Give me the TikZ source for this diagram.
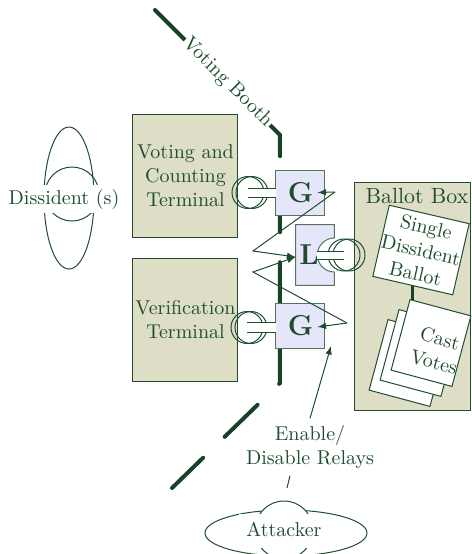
\documentclass[tikz,border=0pt]{standalone}
\usepackage{tikz}
\usetikzlibrary{calc,shapes.geometric}

\definecolor{inkgreen}{RGB}{30,77,47}
\definecolor{wallgreen}{RGB}{22,66,38}
\definecolor{termbeige}{RGB}{222,222,199}
\definecolor{gatelilac}{RGB}{230,230,250}
\definecolor{gateedge}{RGB}{85,115,95}

\tikzset{
  terminal/.style={draw=inkgreen,line width=0.5pt,fill=termbeige,align=center,inner sep=0pt},
  gate/.style={draw=gateedge,line width=0.5pt,fill=gatelilac,minimum width=24.5pt,minimum height=22.5pt,font=\Large\bfseries},
  page/.style={draw=inkgreen,line width=0.5pt,fill=white,align=center,inner sep=0pt,rotate=-15,minimum width=31.5pt,minimum height=36.5pt},
  relay/.style={inkgreen,line width=0.5pt},
  ring/.style={inkgreen,line width=0.5pt},
  wall/.style={wallgreen,line width=2pt,line cap=round,dash pattern=on 23pt off 15pt},
}

\begin{document}
\begin{tikzpicture}[x=0.5pt,y=-0.5pt,every node/.style={text=inkgreen}]
  \useasboundingbox (0,0) rectangle (472,554);

  \draw[wall] (155,10) -- (280,135) -- (280,383) -- (172,488);
  \node[fill=white,rotate=-45,inner sep=0.5pt] (booth) at (227.5,82.5) {Voting Booth};

  \node[ellipse,draw=inkgreen,line width=0.5pt,minimum width=25pt,minimum height=71pt,inner sep=0pt] (dissbody) at (69,198) {};
  \node[circle,draw=inkgreen,line width=0.5pt,minimum size=27pt,inner sep=0pt] (disshead) at (72,194) {};
  \node[fill=white,inner sep=2pt,text height=7.5pt,text depth=2.5pt] (dissident) at (64,199) {Dissident (s)};

  \node[terminal,minimum width=52.5pt,minimum height=61.5pt] (vct) at (185.5,175.5) {Voting and\\Counting\\Terminal};
  \node[terminal,minimum width=52.5pt,minimum height=61.5pt] (vt) at (185.5,319.5) {Verification\\Terminal};

  \node[terminal,minimum width=58pt,minimum height=114pt] (bbox) at (413,296) {};
  \node[anchor=north,inner sep=3pt,font=\fontsize{10.95}{13.6}\selectfont] (bboxlabel) at ([xshift=2pt]bbox.north) {Ballot Box};

  \node[gate] (g1) at (300.5,192.5) {G};
  \node[gate] (g2) at (300.5,325.5) {G};
  \node[minimum width=19pt,minimum height=30pt,inner sep=0pt] (lgate) at (315,255) {};
  \draw[draw=gateedge,line width=0.5pt,fill=gatelilac] (lgate.north west) -- (lgate.north east)
    -- ($(lgate.east)+(0,-17)$) arc (270:90:17) -- (lgate.south east) -- (lgate.south west) -- cycle;
  \node[font=\Large\bfseries] (lletter) at (309,255) {L};

  \foreach \ra/\rb/\ry/\sa/\sb/\sh in {248/252/192.5/248/276/4.5, 247/251/327.5/247/276/5, 344/349/255/317/344/4} {
    \draw[ring] (\ra,\ry) circle (16);
    \draw[ring] (\rb,\ry) circle (16);
    \fill[white] (\sa,\ry-\sh) rectangle (\sb,\ry+\sh);
    \draw[ring] (\sa,\ry-\sh) -- (\sb,\ry-\sh) (\sa,\ry+\sh) -- (\sb,\ry+\sh);
  }

  \node[page,rotate=2,minimum width=41pt,minimum height=36.5pt] (ballot) at (421,250) {Single\\Dissident\\Ballot};
  \foreach \i in {2,1} {
    \node[page] (vote\i) at (431-11*\i,343+10*\i) {};
  }
  \node[page] (votes) at (431,343) {};
  \node[rotate=-15,align=center,inner sep=0pt] (castvotes) at (437,350) {Cast\\Votes};
  \draw[wallgreen,line width=1.5pt,shorten >=3.7pt] (ballot.south) -- (ballot.south |- votes.north);

  \coordinate (r1) at (335,192);
  \coordinate (r2) at (253,251);
  \coordinate (r3) at (253,272);
  \coordinate (r4) at (347,323);
  \draw[relay,-latex] (r1) -- ([xshift=-4pt]g1.east);
  \draw[relay,-latex] (r1) -- (r2) -- ([yshift=-1pt]lgate.west);
  \draw[relay,-latex] (r4) -- (r3) -- ([yshift=-1pt]lgate.west);
  \draw[relay,-latex] (r4) -- ([xshift=-4pt,yshift=-0.75pt]g2.east);

  \node[align=center] (relays) at (310,447) {Enable/\\Disable Relays};
  \coordinate (relaytip) at (331,346);
  \draw[relay,-latex] (relays.north) -- (relaytip);

  \node[ellipse,draw=inkgreen,line width=0.5pt,minimum width=81pt,minimum height=23pt,inner sep=0pt] (attbody) at (286,533) {};
  \node[circle,draw=inkgreen,line width=0.5pt,fill=white,minimum size=29pt,inner sep=0pt] (atthead) at (284,530) {};
  \node[fill=white,inner sep=3.5pt,text height=7.5pt,text depth=2.5pt] (attacker) at (284,531) {Attacker};
  \draw[relay,shorten >=6.5pt] ([xshift=-10pt]relays.south) -- (atthead.north);
\end{tikzpicture}
\end{document}
